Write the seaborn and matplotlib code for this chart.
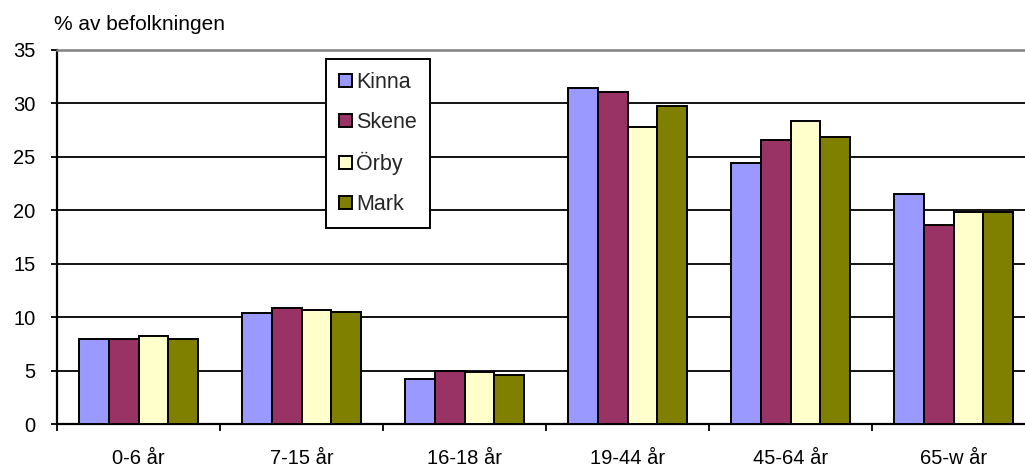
import matplotlib
matplotlib.use("Agg")
import matplotlib.pyplot as plt
import seaborn as sns
import pandas as pd
from matplotlib.ticker import FixedLocator

categories = ["0-6 år", "7-15 år", "16-18 år", "19-44 år", "45-64 år", "65-w år"]
kinna = [8.0, 10.4, 4.2, 31.4, 24.4, 21.5]
skene = [8.0, 10.9, 5.0, 31.1, 26.6, 18.6]
orby = [8.2, 10.7, 4.9, 27.8, 28.4, 19.8]
mark = [8.0, 10.5, 4.6, 29.8, 26.9, 19.8]
series_names = ["Kinna", "Skene", "Örby", "Mark"]
colors = ["#9999FF", "#993366", "#FFFFCC", "#808000"]

rows = []
for name, vals in zip(series_names, [kinna, skene, orby, mark]):
    for c, v in zip(categories, vals):
        rows.append({"Åldersgrupp": c, "Procent": v, "Ort": name})
df = pd.DataFrame(rows)

sns.set_theme(style="white")
plt.rcParams["font.family"] = ["Liberation Sans", "DejaVu Sans"]

W, H = 1025, 467
fig = plt.figure(figsize=(W / 100, H / 100), dpi=100)
ax_left, ax_right, ax_top, ax_bot = 57, 1025, 50, 424
ax = fig.add_axes([ax_left / W, 1 - ax_bot / H, (ax_right - ax_left) / W, (ax_bot - ax_top) / H])

sns.barplot(data=df, x="Åldersgrupp", y="Procent", hue="Ort", order=categories,
            hue_order=series_names, palette=colors, width=0.725, edgecolor="black",
            linewidth=1.4, saturation=1, ax=ax, zorder=3)

cat_px = 163.0
ax.set_xlim(-0.5, -0.5 + (ax_right - ax_left) / cat_px)
ax.set_ylim(0, 35)
ax.set_yticks(range(0, 36, 5))
ax.yaxis.grid(True, color="black", linewidth=1.3, zorder=0)
ax.set_axisbelow(True)
ax.set_xlabel("")
ax.set_ylabel("")

ax.spines["right"].set_visible(False)
ax.spines["top"].set_color("#808080")
ax.spines["top"].set_linewidth(1.8)
ax.spines["left"].set_color("black")
ax.spines["left"].set_linewidth(1.6)
ax.spines["bottom"].set_color("black")
ax.spines["bottom"].set_linewidth(1.6)

ax.tick_params(axis="y", which="major", left=True, length=4.5, width=1.3, color="black",
               pad=11, labelsize=14.5, labelcolor="black")
ax.tick_params(axis="x", which="major", bottom=False, length=0, pad=18, labelsize=14.5,
               labelcolor="black")
ax.xaxis.set_minor_locator(FixedLocator([i - 0.5 for i in range(len(categories) + 1)]))
ax.tick_params(axis="x", which="minor", bottom=True, length=5, width=1.3, color="black")

fig.text(54 / W, 1 - 24 / H, "% av befolkningen", fontsize=15, ha="left", va="center",
         color="black")

handles, labels = ax.get_legend_handles_labels()
leg = ax.legend(handles, labels, loc="upper left", bbox_to_anchor=(0.278, 0.976),
                borderaxespad=0, frameon=True, fancybox=False, edgecolor="black",
                fontsize=15.5, labelspacing=0.88, handlelength=0.6, handleheight=0.55,
                handletextpad=0.2, borderpad=0.6)
leg.get_frame().set_linewidth(1.4)
leg.get_frame().set_facecolor("white")
leg.get_frame().set_alpha(1)
leg.set_zorder(5)

fig.savefig("out.png", dpi=100)
